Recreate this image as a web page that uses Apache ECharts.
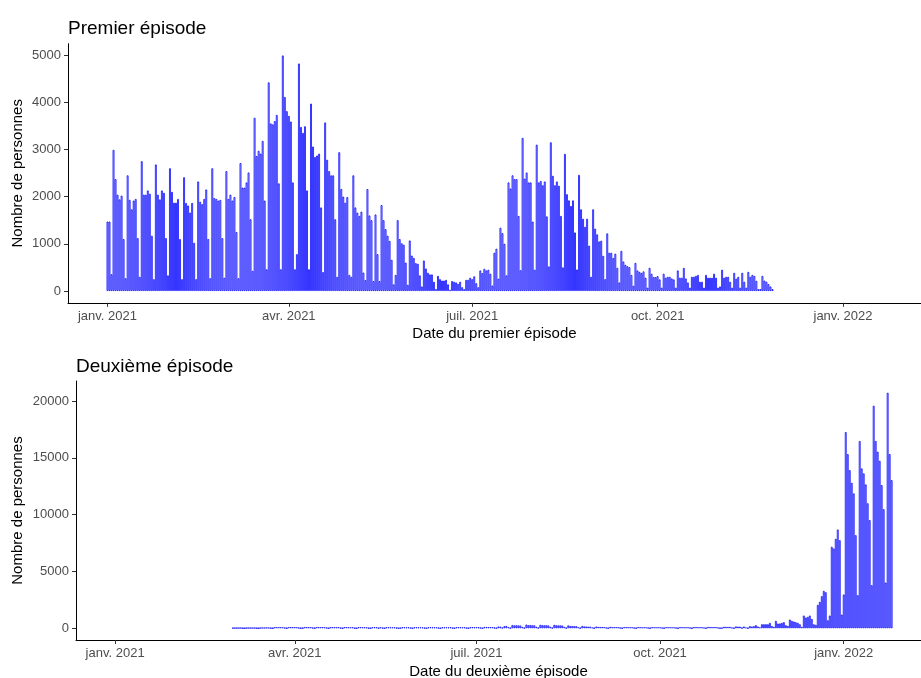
<!DOCTYPE html>
<html><head><meta charset="utf-8">
<script src="https://cdn.jsdelivr.net/npm/echarts@6/dist/echarts.min.js"></script>
<style>html,body{margin:0;padding:0;background:#fff}#c{width:921px;height:678px}</style>
</head><body><div id="c"></div>
<script>
// Reference day (day 0 of the value x-axis)
const refDate = '2021-01-01';

// Premier épisode: daily counts starting 2021-01-01
const premierStart = '2021-01-01';
const premierValues = [
  1470, 1470, 355,
  2990, 2370, 2040, 1940, 2020, 1100, 270,
  2450, 1930, 1730, 1915, 1950, 1120, 300,
  2750, 2040, 2040, 2130, 2060, 1170, 250,
  2680, 2040, 1940, 2130, 2080, 1120, 330,
  2600, 2100, 1870, 1870, 1950, 1100, 250,
  2410, 1865, 1810, 1660, 1865, 1020, 250,
  2320, 1890, 1840, 1950, 2150, 1100, 270,
  2600, 1970, 1950, 1915, 1930, 1120, 280,
  2540, 1950, 2040, 1915, 1990, 1250, 270,
  2710, 2190, 2190, 2300, 2510, 1520, 425,
  3670, 2860, 2970, 2910, 3180, 1915, 460,
  4420, 3550, 3530, 3600, 3730, 2280, 460,
  4990, 4110, 3810, 3710, 3590, 2300, 460,
  780, 4820, 3475, 3350, 3490, 2130, 460,
  3970, 3060, 2840, 2870, 2910, 1770, 400,
  3570, 2780, 2540, 2450, 2450, 1520, 300,
  2940, 2160, 2000, 1870, 1990, 340, 300,
  2450, 1770, 1660, 1590, 1680, 390, 230,
  2160, 1600, 1500, 210, 1620, 780, 210,
  1820, 1500, 1310, 1170, 1060, 660, 140,
  340, 1500, 1100, 1010, 980, 600, 130,
  1070, 750, 700, 590, 575, 330, 95,
  645, 475, 385, 350, 350, 195, 40,
  320, 250, 220, 220, 235, 140, 25,
  210, 195, 180, 150, 195, 80, 40,
  235, 235, 280, 250, 310, 165, 80,
  435, 380, 470, 435, 450, 365, 115,
  810, 895, 260, 1340, 1225, 1000, 330,
  2300, 2170, 2450, 2370, 2370, 1590, 440,
  3245, 2380, 2510, 2300, 2300, 1470, 450,
  3100, 2300, 2330, 2240, 2320, 1580, 520,
  3150, 2440, 2240, 2320, 2230, 1590, 500,
  2905, 2050, 1920, 1800, 1920, 1240, 455,
  2460, 1730, 1530, 1360, 1530, 960, 300,
  1730, 1320, 1200, 1050, 1065, 745, 250,
  1220, 810, 810, 700, 790, 490, 180,
  850, 625, 555, 525, 505, 340, 110,
  595, 435, 405, 380, 415, 280, 70,
  490, 365, 295, 295, 315, 245, 70,
  365, 280, 300, 300, 265, 245, 70,
  435, 280, 280, 490, 265, 180, 70,
  300, 300, 320, 340, 195, 195, 70,
  340, 280, 280, 280, 365, 280, 70,
  95, 450, 280, 300, 300, 195, 70,
  385, 260, 300, 70, 385, 195, 70,
  405, 300, 340, 320, 215, 40, 40,
  320, 220, 195, 145, 95, 40
];

// Deuxième épisode: daily counts starting 2021-03-01
const deuxiemeStart = '2021-03-01';
const deuxiemeValues = [
  20, 25, 25, 30, 30, 10, 5,
  30, 30, 35, 35, 35, 10, 5,
  40, 45, 45, 50, 50, 20, 10,
  100, 90, 95, 90, 85, 40, 10,
  100, 95, 90, 95, 90, 40, 10,
  20, 105, 95, 90, 95, 40, 10,
  105, 95, 90, 95, 90, 40, 10,
  100, 90, 90, 85, 90, 35, 10,
  100, 90, 85, 85, 85, 15, 10,
  95, 90, 85, 85, 80, 15, 10,
  90, 85, 85, 15, 85, 35, 10,
  90, 85, 80, 80, 80, 35, 10,
  20, 90, 85, 80, 80, 35, 10,
  90, 85, 80, 80, 80, 35, 10,
  90, 85, 85, 80, 80, 35, 10,
  90, 85, 80, 80, 85, 35, 10,
  95, 90, 85, 85, 85, 35, 10,
  100, 95, 90, 90, 90, 40, 10,
  110, 100, 100, 95, 100, 45, 15,
  150, 140, 40, 180, 200, 90, 20,
  280, 250, 260, 250, 240, 120, 30,
  320, 270, 280, 260, 260, 130, 30,
  300, 270, 260, 260, 250, 130, 30,
  300, 260, 250, 250, 240, 120, 25,
  250, 200, 190, 180, 180, 90, 20,
  200, 160, 150, 140, 140, 70, 15,
  150, 120, 110, 110, 100, 50, 10,
  120, 100, 95, 95, 90, 45, 10,
  105, 95, 90, 90, 85, 40, 10,
  100, 90, 85, 85, 85, 40, 10,
  95, 90, 85, 85, 80, 40, 10,
  95, 85, 85, 80, 80, 35, 10,
  100, 90, 85, 85, 85, 40, 10,
  105, 95, 90, 90, 90, 45, 10,
  115, 105, 100, 100, 100, 50, 10,
  20, 130, 120, 115, 120, 55, 15,
  160, 140, 140, 25, 150, 70, 15,
  180, 150, 180, 265, 150, 80, 350,
  350, 350, 350, 470, 200, 120, 650,
  410, 420, 470, 530, 265, 200, 760,
  650, 590, 530, 470, 350, 120, 1115,
  940, 1000, 1115, 820, 350, 300, 2055,
  2320, 2820, 3290, 3170, 700, 1115, 7170,
  7020, 7870, 8690, 7750, 1200, 2970, 17270,
  15330, 13920, 12800, 11870, 8190, 2910, 16480,
  14070, 13630, 12660, 11000, 9520, 3790, 19590,
  16480, 15540, 14740, 12600, 10480, 4020, 20730,
  15330, 13040
];

// Axis ticks
const tickDates = ['2021-01-01', '2021-04-01', '2021-07-01', '2021-10-01', '2022-01-01'];
const tickLabels = ['janv. 2021', 'avr. 2021', 'juil. 2021', 'oct. 2021', 'janv. 2022'];
const yTicksTop = [0, 1000, 2000, 3000, 4000, 5000];
const yTicksBottom = [0, 5000, 10000, 15000, 20000];

function dayOffset(s) {
  return Math.round((Date.parse(s + 'T00:00:00Z') - Date.parse(refDate + 'T00:00:00Z')) / 86400000);
}
function toSeries(start, vals) {
  const o = dayOffset(start);
  return vals.map((v, i) => [o + i, v]);
}
const tickPos = tickDates.map(dayOffset);
const labelFor = {};
tickPos.forEach((p, i) => { labelFor[p] = tickLabels[i]; });

const FONT = 'Liberation Sans, Arial, sans-serif';
const xMin = -19.6, xMax = 403.7;

function xAxisCfg(gridIndex, name) {
  return {
    type: 'value', gridIndex, min: xMin, max: xMax, name,
    nameLocation: 'middle', nameGap: 24, nameMoveOverlap: false,
    nameTextStyle: { fontFamily: FONT, fontSize: 15, color: '#000' },
    axisLine: { show: true, onZero: false, lineStyle: { color: '#000', width: 1 } },
    axisTick: { show: true, length: 4, lineStyle: { color: '#333' }, customValues: tickPos },
    axisLabel: { fontFamily: FONT, fontSize: 13, color: '#4d4d4d', margin: 7,
      customValues: tickPos, formatter: v => labelFor[Math.round(v)] || '' },
    splitLine: { show: false }
  };
}
function yAxisCfg(gridIndex, min, max, ticks, gap) {
  return {
    type: 'value', gridIndex, min, max, name: 'Nombre de personnes',
    nameLocation: 'middle', nameGap: gap, nameMoveOverlap: false,
    nameTextStyle: { fontFamily: FONT, fontSize: 15, color: '#000' },
    axisLine: { show: true, onZero: false, lineStyle: { color: '#000', width: 1 } },
    axisTick: { show: true, length: 4, lineStyle: { color: '#333' }, customValues: ticks },
    axisLabel: { fontFamily: FONT, fontSize: 13, color: '#4d4d4d', margin: 7, customValues: ticks,
      formatter: v => String(Math.round(v)) },
    splitLine: { show: false }
  };
}
const barStyle = { color: '#ffffff', borderColor: '#0000ff', borderWidth: 0.8 };

const chart = echarts.init(document.getElementById('c'), null, { renderer: 'canvas' });
chart.setOption({
  animation: false,
  backgroundColor: '#ffffff',
  title: [
    { text: 'Premier épisode', left: 68, top: 18, padding: 0,
      textStyle: { fontFamily: FONT, fontSize: 19, fontWeight: 'normal', color: '#000', lineHeight: 22 } },
    { text: 'Deuxième épisode', left: 76, top: 356, padding: 0,
      textStyle: { fontFamily: FONT, fontSize: 19, fontWeight: 'normal', color: '#000', lineHeight: 22 } }
  ],
  grid: [
    { left: 68, top: 43.7, width: 853, height: 259.1, containLabel: false, outerBoundsMode: 'none' },
    { left: 76, top: 381, width: 845, height: 259, containLabel: false, outerBoundsMode: 'none' }
  ],
  xAxis: [xAxisCfg(0, 'Date du premier épisode'), xAxisCfg(1, 'Date du deuxième épisode')],
  yAxis: [yAxisCfg(0, -250, 5240, yTicksTop, 43), yAxisCfg(1, -1036, 21766, yTicksBottom, 51)],
  series: [
    { type: 'bar', xAxisIndex: 0, yAxisIndex: 0, barWidth: 1.8, data: toSeries(premierStart, premierValues), itemStyle: barStyle },
    { type: 'bar', xAxisIndex: 1, yAxisIndex: 1, barWidth: 1.8, data: toSeries(deuxiemeStart, deuxiemeValues), itemStyle: barStyle }
  ]
});
</script>
</body></html>
